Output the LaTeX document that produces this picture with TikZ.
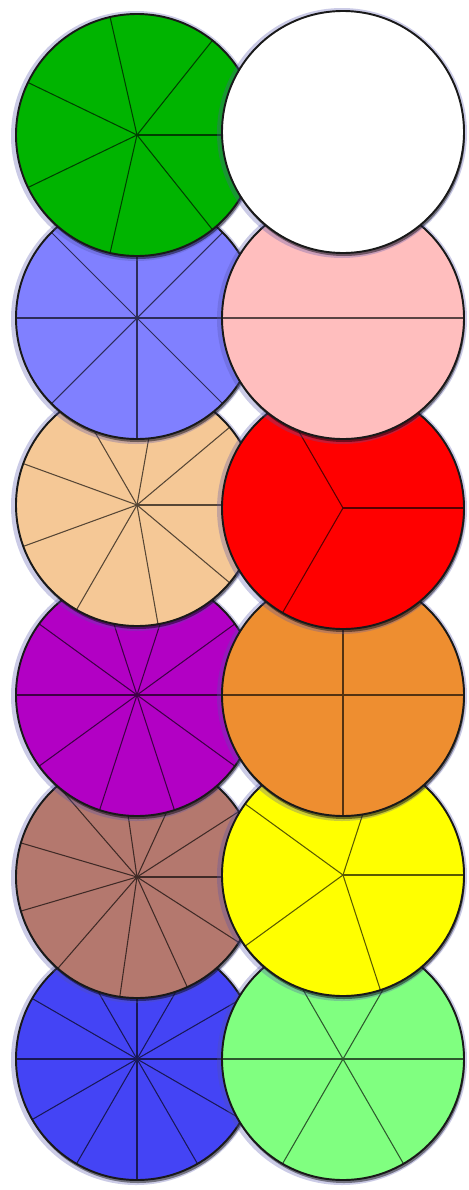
\documentclass[tikz,border=0pt]{standalone}
\usepackage{tikz}
\usetikzlibrary{calc}
\definecolor{fracgreen}{RGB}{0,180,0}
\definecolor{fraclav}{RGB}{128,128,255}
\definecolor{fracpeach}{RGB}{245,200,150}
\definecolor{fracpurple}{RGB}{178,0,196}
\definecolor{fracbrown}{RGB}{180,120,110}
\definecolor{fracblue}{RGB}{68,68,245}
\definecolor{fracwhite}{RGB}{255,255,255}
\definecolor{fracpink}{RGB}{255,190,190}
\definecolor{fracred}{RGB}{255,0,0}
\definecolor{fracorange}{RGB}{238,142,48}
\definecolor{fracyellow}{RGB}{255,255,0}
\definecolor{fraclime}{RGB}{128,255,128}

\begin{document}
\begin{tikzpicture}[x=0.02cm,y=-0.02cm,
halo/.style={fill=blue!35!gray,opacity=.3},
shade/.style={fill=black,opacity=.45},
disc/.style={draw=black!90,line width=1.1pt},
spoke/.style={line width=0.6pt}]
\useasboundingbox (0,0) rectangle (468,1190);
% fraction discs, drawn from the bottom row up
\foreach \cx/\cy/\n/\col in {137/1059/12/fracblue, 343/1059/6/fraclime,
  137/877/11/fracbrown, 343/875/5/fracyellow,
  137/695/10/fracpurple, 343/695/4/fracorange,
  137/505/9/fracpeach, 343/508/3/fracred,
  137/318/8/fraclav, 343/318/2/fracpink,
  137/135/7/fracgreen, 343/132/1/fracwhite}{
  \fill[halo] (\cx-1,\cy+1) circle (125);
  \fill[shade] (\cx+1,\cy+3) circle (121);
  \fill[\col] (\cx,\cy) circle (121);
  \ifnum\n>1
    \foreach \k in {1,...,\n}
      \draw[spoke,draw=\col!35!black] (\cx,\cy) -- ++(\k*360/\n:121);
  \fi
  \draw[disc] (\cx,\cy) circle (121);
}
\end{tikzpicture}
\end{document}
